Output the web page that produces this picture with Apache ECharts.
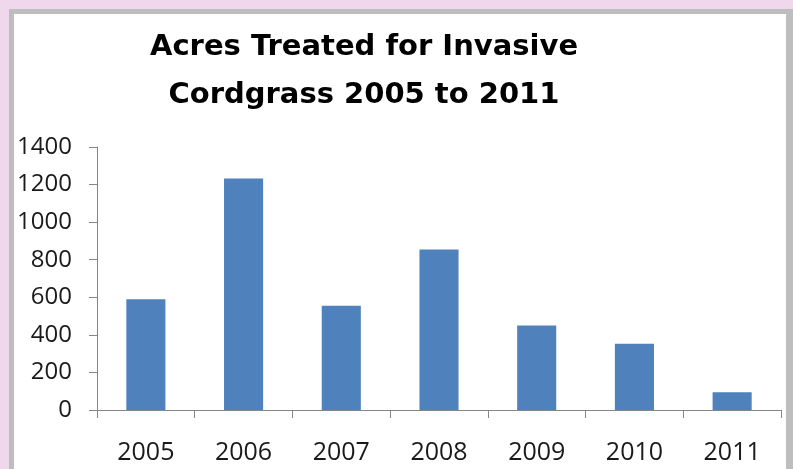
<!DOCTYPE html>
<html>
<head>
<meta charset="utf-8">
<script src="https://cdn.jsdelivr.net/npm/echarts@6/dist/echarts.min.js"></script>
<style>
  html, body { margin: 0; padding: 0; background: #EFD7EC; }
  #chart { width: 793px; height: 469px; }
</style>
</head>
<body>
<div id="chart"></div>
<script>
// Acres treated per year
const years = ['2005', '2006', '2007', '2008', '2009', '2010', '2011'];
const acres = [590, 1232, 555, 855, 450, 352, 94];
const yTicks = [0, 200, 400, 600, 800, 1000, 1200, 1400];
const titleLines = ['Acres Treated for Invasive', 'Cordgrass 2005 to 2011'];

const chart = echarts.init(document.getElementById('chart'), null, { renderer: 'canvas' });

const option = {
  backgroundColor: 'transparent',
  animation: false,
  graphic: [
    // grey frame with a white panel inside
    { type: 'rect', z: -10, shape: { x: 9, y: 9, width: 784, height: 470 }, style: { fill: '#BEBEBE' } },
    { type: 'rect', z: -9, shape: { x: 14, y: 14, width: 772, height: 470 }, style: { fill: '#FFFFFF' } }
  ],
  title: {
    text: titleLines.join('\n'),
    left: 359,
    top: 18,
    textAlign: 'center',
    textStyle: {
      fontFamily: 'DejaVu Sans',
      fontWeight: 'bold',
      fontSize: 29,
      lineHeight: 48,
      color: '#000000'
    }
  },
  grid: { left: 97, right: 12, top: 147, bottom: 59, containLabel: false },
  xAxis: {
    type: 'category',
    data: years,
    boundaryGap: true,
    axisLine: { show: true, lineStyle: { color: '#868686', width: 1 } },
    axisTick: { show: true, inside: false, length: 8, alignWithLabel: false, lineStyle: { color: '#868686' } },
    axisLabel: { margin: 30, fontFamily: 'Open Sans', fontSize: 25, color: '#1a1a1a' },
    splitLine: { show: false }
  },
  yAxis: {
    type: 'value',
    min: yTicks[0],
    max: yTicks[yTicks.length - 1],
    interval: yTicks[1] - yTicks[0],
    axisLine: { show: true, lineStyle: { color: '#868686', width: 1 } },
    axisTick: { show: true, inside: false, length: 8, lineStyle: { color: '#868686' } },
    axisLabel: { margin: 25, fontFamily: 'Open Sans', fontSize: 24, color: '#1a1a1a', formatter: v => String(v) },
    splitLine: { show: false }
  },
  series: [{
    type: 'bar',
    data: acres,
    barWidth: '40%',
    itemStyle: { color: '#4F81BD' }
  }]
};

chart.setOption(option);
</script>
</body>
</html>
